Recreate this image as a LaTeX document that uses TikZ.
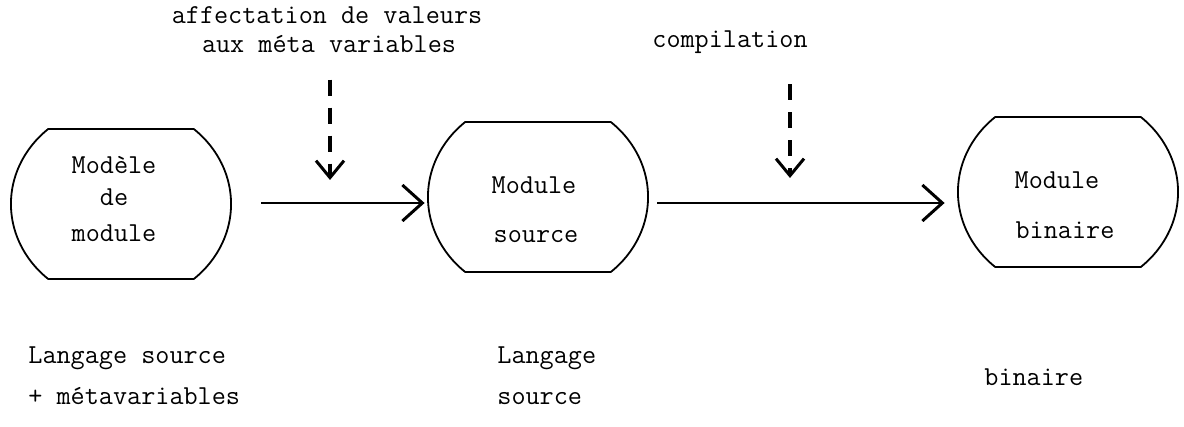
\documentclass[tikz,border=0pt]{standalone}
\usepackage{fontspec}
\usetikzlibrary{arrows.meta,calc}
\newcommand\modoutline[1]{%
  \draw[outline] ($(#1.center)+(72.8,-75)$)
    arc[start angle=-48.6,end angle=48.6,x radius=110,y radius=100]
    -- ($(#1.center)+(-72.8,75)$)
    arc[start angle=131.4,end angle=228.6,x radius=110,y radius=100]
    -- cycle;}
\begin{document}
\begin{tikzpicture}[x=0.5pt,y=-0.5pt,
  txt/.style={font=\ttfamily\fontsize{13.7}{16}\selectfont, inner sep=0pt, anchor=base},
  modbox/.style={draw=none, inner sep=0pt, minimum width=110pt, minimum height=75pt},
  outline/.style={line width=0.9pt, line join=round},
  flow/.style={line width=1.3pt, -{Straight Barb[length=10pt,width=18pt,line width=1.5pt]}},
  act/.style={line width=1.7pt, dash pattern=on 8pt off 6pt, -{Straight Barb[length=8.5pt,width=14pt,line width=1.5pt]}},
]
\fill[white] (0,0) rectangle (1184,427);
\useasboundingbox (0,0) rectangle (1184,427);

% module shapes
\node[modbox] (m1) at (121,204) {};
\node[modbox] (m2) at (538,197) {};
\node[modbox] (m3) at (1068,192) {};
\modoutline{m1}
\modoutline{m2}
\modoutline{m3}

% texts inside shapes
\node[txt] (m1a) at (114,174) {Modèle};
\node[txt] (m1b) at (114,206) {de};
\node[txt] (m1c) at (114,242) {module};
\node[txt] (m2a) at (534,194) {Module};
\node[txt] (m2b) at (536,243) {source};
\node[txt] (m3a) at (1057,189) {Module};
\node[txt] (m3b) at (1065,239) {binaire};

% action labels
\node[txt] (l1a) at (327,24) {affectation de valeurs};
\node[txt] (l1b) at (329,53) {aux méta variables};
\node[txt] (l2) at (730,48) {compilation};

% bottom labels
\node[txt, anchor=base west] (b1a) at (28,364) {Langage source};
\node[txt, anchor=base west] (b1b) at (28,404) {+ métavariables};
\node[txt, anchor=base west] (b2a) at (497,364) {Langage};
\node[txt, anchor=base west] (b2b) at (497,404) {source};
\node[txt, anchor=base west] (b3) at (984,386) {binaire};

% flow arrows
\coordinate (fy) at (0,203);
\draw[flow, shorten <=15pt, shorten >=1.5pt] (m1.east |- fy) -- (m2.west |- fy);
\draw[flow, shorten <=4.5pt, shorten >=6.5pt] (m2.east |- fy) -- (m3.west |- fy);

% dashed action arrows
\coordinate (d1) at (330,180);
\coordinate (d2) at (790,178);
\draw[act, shorten <=13pt] (l1b.south -| d1) -- (d1);
\draw[act, shorten <=15pt] (l2.south -| d2) -- (d2);
\end{tikzpicture}
\end{document}
